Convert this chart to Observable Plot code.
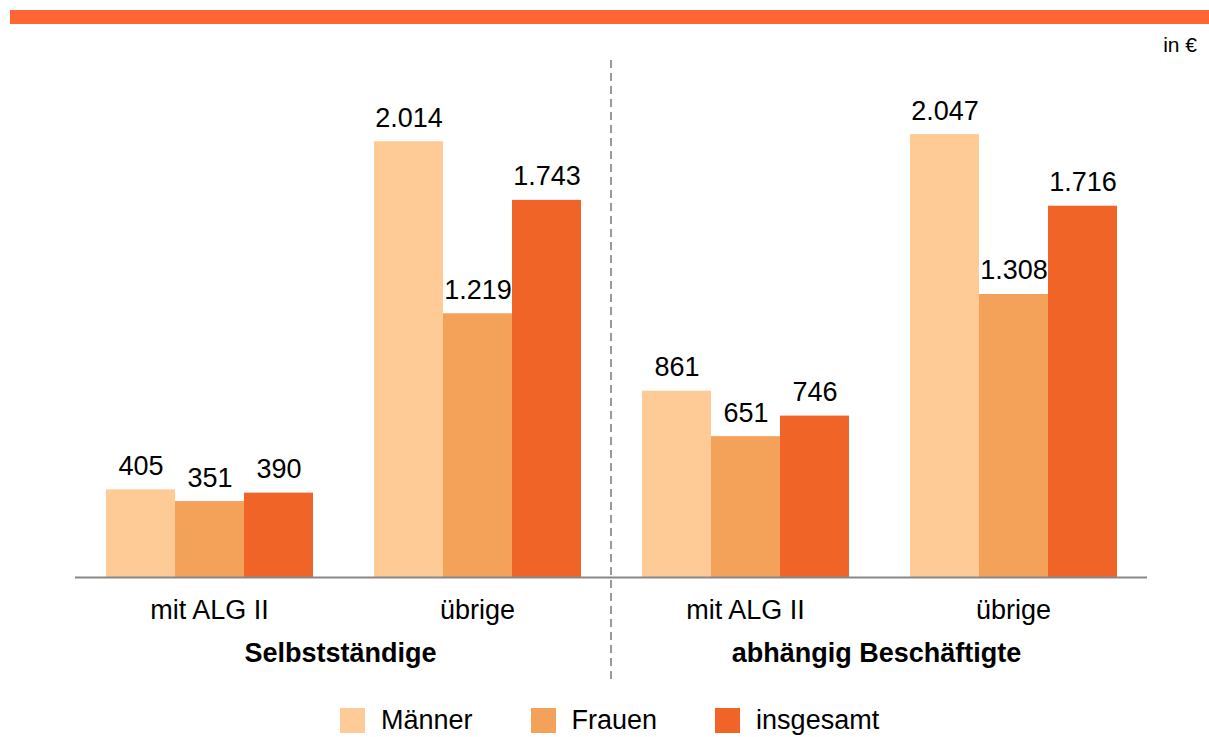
<!DOCTYPE html>
<html>
<head>
<meta charset="utf-8">
<script src="https://cdn.jsdelivr.net/npm/d3@7"></script>
<script src="https://cdn.jsdelivr.net/npm/@observablehq/plot@0.6"></script>
<style>
  body { margin: 0; background: #fff; font-family: "Liberation Sans", Arial, sans-serif; color: #000; }
  #wrap { position: relative; width: 1209px; height: 737px; overflow: hidden; }
  #topbar { position: absolute; left: 10px; top: 10px; width: 1199px; height: 14px; background: #FF6633; }
  #unit { position: absolute; right: 12px; top: 34px; font-size: 21px; line-height: 1; }
  #chart { position: absolute; left: 0; top: 30px; }
  #legend { position: absolute; left: 340px; top: 707px; display: flex; align-items: center; font-size: 27px; line-height: 26px; }
  .item { display: flex; align-items: center; margin-right: 58px; }
  .sw { width: 25px; height: 25px; margin-right: 16px; }
</style>
</head>
<body>
<div id="wrap">
  <div id="topbar"></div>
  <div id="unit">in €</div>
  <div id="chart"></div>
  <div id="legend"></div>
</div>
<script>
const groups = ["Selbstständige", "abhängig Beschäftigte"];
const subgroups = ["mit ALG II", "übrige"];
const series = ["Männer", "Frauen", "insgesamt"];
const colors = ["#FECB97", "#F4A259", "#F06428"];
const selbstMit = [405, 351, 390];
const selbstUebrige = [2014, 1219, 1743];
const abhMit = [861, 651, 746];
const abhUebrige = [2047, 1308, 1716];

const valuesByKey = [
  [groups[0], subgroups[0], selbstMit],
  [groups[0], subgroups[1], selbstUebrige],
  [groups[1], subgroups[0], abhMit],
  [groups[1], subgroups[1], abhUebrige]
];
const keys = valuesByKey.map(([g, s]) => g + "|" + s);
const rows = [];
for (const [g, s, vals] of valuesByKey) {
  vals.forEach((v, i) => rows.push({key: g + "|" + s, series: series[i], value: v}));
}
const groupLabels = groups.map(g => ({key: g + "|" + subgroups[1], label: g}));

const de = d3.formatLocale({decimal: ",", thousands: ".", grouping: [3], currency: ["", " €"]});
const fmt = de.format(",d");

const chart = Plot.plot({
  width: 1209,
  height: 660,
  marginLeft: 75,
  marginRight: 62,
  marginTop: 71,
  marginBottom: 113,
  style: {fontFamily: "'Liberation Sans', Arial, sans-serif", fontSize: "27px", color: "#000", background: "transparent"},
  fx: {domain: keys, padding: 0, label: null, axis: "bottom", tickSize: 0, tickPadding: 22, tickFormat: k => k.split("|")[1]},
  x: {domain: series, paddingInner: 0, paddingOuter: 0.442, axis: null},
  y: {domain: [0, 2200], axis: null},
  color: {domain: series, range: colors},
  marks: [
    Plot.barY(rows, {fx: "key", x: "series", y: "value", fill: "series"}),
    Plot.text(rows, {fx: "key", x: "series", y: "value", text: d => fmt(d.value), lineAnchor: "bottom", dy: -15, fontSize: 27, fill: "#000"}),
    Plot.ruleY([0], {stroke: "#888", strokeWidth: 2}),
    Plot.text(groupLabels, {fx: "key", frameAnchor: "bottom-left", text: "label", textAnchor: "middle", lineAnchor: "bottom", dx: -3, dy: 84, fontWeight: "bold", fontSize: 27, fill: "#000"})
  ]
});
document.getElementById("chart").appendChild(chart);

// dashed divider at the boundary between the two main groups, from the fx scale
const fx = chart.scale("fx");
const xDiv = fx.apply(keys[2]);
d3.select(chart).append("line")
  .attr("x1", xDiv).attr("x2", xDiv)
  .attr("y1", 30).attr("y2", 650)
  .attr("stroke", "#999").attr("stroke-width", 2).attr("stroke-dasharray", "8,5");

const legend = d3.select("#legend");
series.forEach((s, i) => {
  const it = legend.append("div").attr("class", "item");
  it.append("div").attr("class", "sw").style("background", colors[i]);
  it.append("span").text(s);
});
</script>
</body>
</html>
